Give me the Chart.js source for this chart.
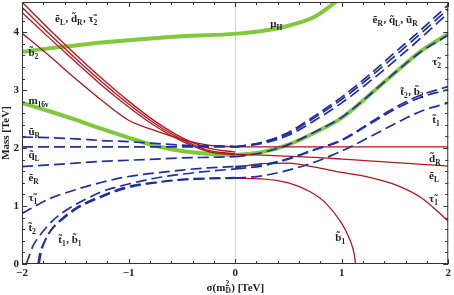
<!DOCTYPE html>
<html><head><meta charset="utf-8">
<script src="https://cdn.jsdelivr.net/npm/chart.js@4/dist/chart.umd.min.js"></script>
<style>html,body{margin:0;padding:0;background:#fff}#c{display:block}</style>
</head><body>
<canvas id="c" width="454" height="295"></canvas>
<script>
// ---- axis ticks ----
const xTicks=[-2,-1,0,1,2];
const yTicks=[0,1,2,3,4];
// ---- sigma grids ----
const sigL=[-2,-1.75,-1.5,-1.25,-1,-0.75,-0.5,-0.25,0];
const sigR=[0,0.25,0.5,0.75,1,1.25,1.5,1.75,2];
// ---- green curves ----
const sigMuH=[-2,-1.75,-1.5,-1.25,-1,-0.5,0,0.25,0.5,0.75,1];
const muH=[3.66,3.72,3.77,3.82,3.86,3.93,3.97,4.02,4.11,4.27,4.6];
const m16L=[2.78,2.64,2.49,2.33,2.18,2.04,1.95,1.90,1.88];
const m16R=[1.88,1.93,2.06,2.27,2.52,2.9,3.3,3.68,3.97];
// ---- red (solid) curves, sigma<0 ----
const redL1=[4.52,4.06,3.62,3.20,2.81,2.46,2.18,2.00,1.93];
const redL2=[4.43,3.98,3.55,3.14,2.76,2.42,2.15,1.96,1.90];
const redL3=[4.34,3.91,3.49,3.08,2.71,2.38,2.12,1.94,1.88];
const redL4=[3.98,3.60,3.20,2.82,2.48,2.30,2.15,2.05,2.02];
// ---- red (solid) curves, sigma>0 ----
const dR_R=[2.02,2.02,2.02,2.02,2.02,2.02,2.02,2.02,2.02];
const eL_R=[1.89,1.88,1.86,1.84,1.81,1.78,1.75,1.72,1.69];
const tau1_R=[1.66,1.73,1.74,1.67,1.58,1.50,1.37,1.14,0.74];
const sigB1R=[0,0.25,0.5,0.7,0.85,1.0,1.07,1.1,1.12,1.13];
const b1_R=[1.48,1.47,1.40,1.25,1.05,0.70,0.45,0.30,0.15,0];
// ---- blue (dashed) curves, sigma<0 ----
const uR_L=[2.19,2.18,2.16,2.13,2.11,2.08,2.05,2.04,2.03];
const qL_L=[2.02,2.02,2.02,2.02,2.02,2.02,2.02,2.02,2.02];
const eR_L=[1.68,1.71,1.74,1.77,1.79,1.81,1.83,1.84,1.85];
const tau1_L=[0.87,1.12,1.28,1.41,1.51,1.57,1.62,1.66,1.68];
const sigT2L=[-1.96,-1.93,-1.9,-1.85,-1.8,-1.7,-1.55,-1.4,-1.25,-1,-0.75,-0.5,-0.25,0];
const t2_L=[0,0.15,0.3,0.45,0.57,0.77,0.97,1.12,1.25,1.38,1.48,1.55,1.6,1.64];
const sigT1L=[-1.85,-1.83,-1.79,-1.74,-1.6,-1.5,-1.3,-1,-0.75,-0.5,-0.25,0];
const t1_L=[0,0.2,0.38,0.55,0.8,0.94,1.12,1.32,1.4,1.45,1.47,1.48];
const sigB1L=[-1.84,-1.82,-1.78,-1.73,-1.6,-1.5,-1.3,-1,-0.75,-0.5,-0.25,0];
const b1_L=[0,0.2,0.42,0.58,0.82,0.96,1.14,1.34,1.41,1.46,1.48,1.49];
// ---- blue (dashed) curves, sigma>0 ----
const eR_R=[2.02,2.10,2.27,2.56,2.88,3.25,3.65,4.05,4.47];
const qL_R=[2.02,2.09,2.25,2.53,2.84,3.20,3.59,3.99,4.40];
const uR_R=[2.02,2.08,2.22,2.48,2.78,3.13,3.51,3.91,4.33];
const tau2_R=[1.85,1.92,2.06,2.28,2.53,2.9,3.3,3.67,3.95];
const t2_R=[1.64,1.69,1.81,1.97,2.14,2.42,2.70,2.92,3.06];
const b2_R=[1.68,1.71,1.82,1.98,2.13,2.40,2.67,2.88,3.01];
const t1_R=[1.48,1.52,1.62,1.76,1.95,2.18,2.42,2.64,2.78];

const RED='#b3151f', BLUE='#1f2f9e', GREEN='#80c83c';
const pts=(xs,ys)=>xs.map((x,i)=>({x:x,y:ys[i]}));
const red=(xs,ys)=>({data:pts(xs,ys),borderColor:RED,borderWidth:1.3,order:1});
const blue=(xs,ys)=>({data:pts(xs,ys),borderColor:BLUE,borderWidth:1.7,borderDash:[11,5],order:0});
const green=(xs,ys)=>({data:pts(xs,ys),borderColor:GREEN,borderWidth:4,order:2});

const datasets=[
 blue(sigL,uR_L),blue(sigL,qL_L),blue(sigL,eR_L),blue(sigL,tau1_L),
 blue(sigT2L,t2_L),blue(sigT1L,t1_L),blue(sigB1L,b1_L),
 blue(sigR,eR_R),blue(sigR,qL_R),blue(sigR,uR_R),blue(sigR,tau2_R),
 blue(sigR,t2_R),blue(sigR,b2_R),blue(sigR,t1_R),
 red(sigL,redL1),red(sigL,redL2),red(sigL,redL3),red(sigL,redL4),
 red(sigR,dR_R),red(sigR,eL_R),red(sigR,tau1_R),red(sigB1R,b1_R),
 green(sigMuH,muH),green(sigL,m16L),green(sigR,m16R)
];

const SERIF='"Liberation Serif","DejaVu Serif",serif';
const F='bold 11px '+SERIF, FS='bold 7.5px '+SERIF;
const labels=[
 {x:-1.69,y:4.17,parts:[['ẽ','L'],', ',['d̃','R'],', ',['τ̃','2']]},
 {x:-1.94,y:3.59,parts:[['b̃','2']]},
 {x:-1.94,y:2.76,parts:[['m','16ν']]},
 {x:-1.94,y:2.22,parts:[['ũ','R']]},
 {x:-1.94,y:1.83,parts:[['q̃','L']]},
 {x:-1.94,y:1.43,parts:[['ẽ','R']]},
 {x:-1.94,y:1.09,parts:[['τ̃','1']]},
 {x:-1.94,y:0.57,parts:[['t̃','2']]},
 {x:-1.66,y:0.36,parts:[['t̃','1'],', ',['b̃','1']]},
 {x:0.33,y:4.09,parts:[['μ','H']]},
 {x:1.29,y:4.16,parts:[['ẽ','R'],', ',['q̃','L'],', ',['ũ','R']]},
 {x:1.85,y:3.43,parts:[['τ̃','2']]},
 {x:1.55,y:2.91,parts:[['t̃','2'],', ',['b̃','2']]},
 {x:1.85,y:2.43,parts:[['t̃','1']]},
 {x:1.82,y:1.76,parts:[['d̃','R']]},
 {x:1.82,y:1.47,parts:[['ẽ','L']]},
 {x:1.82,y:1.07,parts:[['τ̃','1']]},
 {x:0.94,y:0.40,parts:[['b̃','1']]}
];

function drawParts(ctx,parts,px,py){
 for(const p of parts){
  if(typeof p==='string'){ctx.font=F;ctx.fillText(p,px,py);px+=ctx.measureText(p).width;}
  else{ctx.font=F;ctx.fillText(p[0],px,py);px+=ctx.measureText(p[0]).width;
   ctx.font=FS;ctx.fillText(p[1],px,py+3);px+=ctx.measureText(p[1]).width+0.5;}
 }
 return px;
}
const fmt=v=>(v<0?'\u2212'+Math.abs(v):String(v));

const framePlugin={id:'frame',afterDatasetsDraw(chart){
 const {ctx,chartArea:a,scales:{x,y}}=chart;
 ctx.save();
 ctx.strokeStyle='#333';ctx.lineWidth=1;
 ctx.strokeRect(a.left+0.5,a.top+0.5,a.right-a.left-1,a.bottom-a.top-1);
 ctx.beginPath();
 for(let k=0;k<=20;k++){const v=-2+k*0.2;const px=Math.round(x.getPixelForValue(v))+0.5;
  const L=(k%5===0)?5:3;
  ctx.moveTo(px,a.bottom);ctx.lineTo(px,a.bottom-L);ctx.moveTo(px,a.top);ctx.lineTo(px,a.top+L);}
 for(let k=0;k<=22;k++){const v=k*0.2;const py=Math.round(y.getPixelForValue(v))+0.5;
  const L=(k%5===0)?5:3;
  ctx.moveTo(a.left,py);ctx.lineTo(a.left+L,py);ctx.moveTo(a.right,py);ctx.lineTo(a.right-L,py);}
 ctx.stroke();
 // y tick labels
 ctx.fillStyle='#222';ctx.font=F;ctx.textAlign='right';ctx.textBaseline='middle';
 for(const v of yTicks){ctx.fillText(fmt(v),a.left-3,y.getPixelForValue(v));}
 // curve labels
 ctx.textBaseline='alphabetic';ctx.textAlign='left';
 for(const L of labels){drawParts(ctx,L.parts,x.getPixelForValue(L.x),y.getPixelForValue(L.y));}
 // axis titles
 ctx.font='bold 11px '+SERIF;
 ctx.save();ctx.translate(9,(a.top+a.bottom)/2);ctx.rotate(-Math.PI/2);ctx.textAlign='center';
 ctx.fillText('Mass [TeV]',0,0);ctx.restore();
 const cx=(a.left+a.right)/2, by=291;
 ctx.font=F;const w1=ctx.measureText('σ(m').width, w3=ctx.measureText(') [TeV]').width;
 ctx.font=FS;const w2=ctx.measureText('D').width;
 let px=cx-(w1+w2+w3)/2;
 ctx.font=F;ctx.fillText('σ(m',px,by);px+=w1;
 ctx.font=FS;ctx.fillText('2',px,by-5);ctx.fillText('D',px,by+2);px+=w2+0.5;
 ctx.font=F;ctx.fillText(') [TeV]',px,by);
 ctx.restore();
}};

new Chart(document.getElementById('c'),{
 type:'line',
 data:{datasets:datasets},
 options:{animation:false,responsive:false,devicePixelRatio:1,
  layout:{padding:{top:2,right:4,left:0,bottom:0}},
  plugins:{legend:{display:false},tooltip:{enabled:false}},
  elements:{point:{radius:0},line:{cubicInterpolationMode:'monotone',fill:false}},
  scales:{
   x:{type:'linear',min:-2,max:2,
    afterFit(s){s.height=31;},
    afterBuildTicks(s){s.ticks=xTicks.map(v=>({value:v}));},
    ticks:{font:{family:SERIF,size:11,weight:'bold'},color:'#222',padding:3,maxRotation:0,callback:v=>fmt(v)},
    grid:{drawTicks:false,color:c=>(c.tick&&c.tick.value===0)?'#d4d4d4':'rgba(0,0,0,0)'},
    border:{display:false}},
   y:{type:'linear',min:0,max:4.52,
    afterFit(s){s.width=22;},
    afterBuildTicks(s){s.ticks=yTicks.map(v=>({value:v}));},
    ticks:{display:false},
    grid:{display:false},border:{display:false}}
  }
 },
 plugins:[framePlugin]
});
</script>
</body></html>
